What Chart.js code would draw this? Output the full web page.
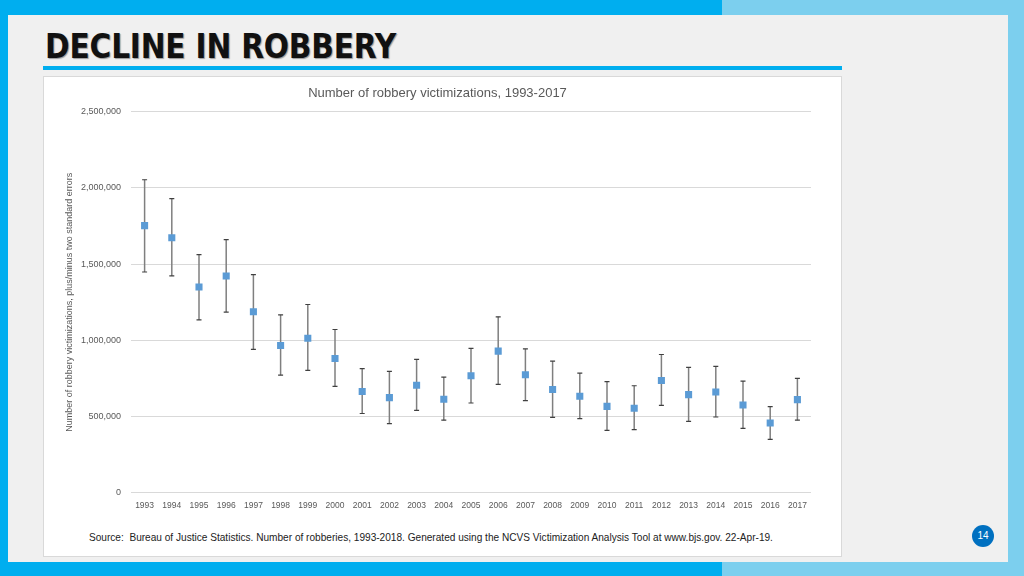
<!DOCTYPE html>
<html>
<head>
<meta charset="utf-8">
<script src="https://cdn.jsdelivr.net/npm/chart.js@4/dist/chart.umd.min.js"></script>
<style>
    html, body { margin: 0; padding: 0; }
    body { width: 1024px; height: 576px; position: relative; overflow: hidden; background: #7ccfee; font-family: "Liberation Sans", Arial, sans-serif; }
    #topbar { position: absolute; left: 0; top: 0; width: 722px; height: 15px; background: #00aeef; }
    #leftbar { position: absolute; left: 0; top: 0; width: 8px; height: 576px; background: #00aeef; }
    #bottombar { position: absolute; left: 0; top: 562px; width: 722px; height: 14px; background: #00aeef; }
    #panel { position: absolute; left: 8px; top: 15px; width: 1000px; height: 547px; background: #f0f0f0; }
    #heading { position: absolute; left: 45px; top: 27px; font-family: "Liberation Sans Narrow", "DejaVu Sans Condensed", "Liberation Sans", sans-serif; font-weight: bold; font-size: 33px; letter-spacing: -0.2px; color: #111; text-shadow: 1px 1px 1px #999; }
    #rule { position: absolute; left: 43px; top: 66px; width: 799px; height: 4px; background: #00aeef; }
    #box { position: absolute; left: 43px; top: 76px; width: 797px; height: 479px; background: #fff; border: 1px solid #d9d9d9; }
    #wrap { position: absolute; left: 0; top: 0; width: 797px; height: 434px; }
    #source { position: absolute; left: 45px; top: 455px; font-size: 10.1px; color: #222; white-space: nowrap; }
    #page { position: absolute; left: 972px; top: 525px; width: 22px; height: 22px; border-radius: 50%; background: #0070c0; color: #fff; font-size: 10px; line-height: 22px; text-align: center; }
</style>
</head>
<body>
<div id="topbar"></div>
<div id="leftbar"></div>
<div id="bottombar"></div>
<div id="panel"></div>
<div id="heading">DECLINE IN ROBBERY</div>
<div id="rule"></div>
<div id="box">
    <div id="wrap"><canvas id="robbery-js"></canvas></div>
    <div id="source">Source:&nbsp; Bureau of Justice Statistics. Number of robberies, 1993-2018. Generated using the NCVS Victimization Analysis Tool at www.bjs.gov. 22-Apr-19.</div>
</div>
<div id="page">14</div>

<script>
const YEARS = ['1993', '1994', '1995', '1996', '1997', '1998', '1999', '2000', '2001', '2002', '2003', '2004', '2005',
    '2006', '2007', '2008', '2009', '2010', '2011', '2012', '2013', '2014', '2015', '2016', '2017'];

const victimizations = [1752000, 1673000, 1350000, 1422000, 1187000, 966000, 1014000, 881000, 664000, 624000, 705000, 613000, 768000,
    929000, 774000, 678000, 633000, 567000, 554000, 737000, 644000, 661000, 576000, 458000, 611000];

// value plus two standard errors
const upperBound = [2053000, 1929000, 1562000, 1660000, 1431000, 1167000, 1235000, 1071000, 814000, 796000, 875000, 759000, 947000,
    1154000, 944000, 864000, 785000, 729000, 702000, 907000, 822000, 829000, 733000, 565000, 751000];

// value minus two standard errors
const lowerBound = [1448000, 1422000, 1134000, 1185000, 940000, 772000, 803000, 698000, 520000, 454000, 541000, 476000, 589000,
    711000, 604000, 495000, 486000, 410000, 414000, 574000, 469000, 497000, 423000, 351000, 476000];

const Y_TICKS = [0, 500000, 1000000, 1500000, 2000000, 2500000];

const errorBars = {
    id: 'errorBars',
    beforeDatasetsDraw(chart) {
        const ctx = chart.ctx;
        const x = chart.scales.x, y = chart.scales.y;
        ctx.save();
        upperBound.forEach((hi, i) => {
            const px = x.getPixelForValue(i);
            const top = y.getPixelForValue(hi);
            const bottom = y.getPixelForValue(lowerBound[i]);
            ctx.strokeStyle = '#7f7f7f';
            ctx.lineWidth = 1.5;
            ctx.beginPath();
            ctx.moveTo(px, top);
            ctx.lineTo(px, bottom);
            ctx.stroke();
            ctx.strokeStyle = '#404040';
            ctx.lineWidth = 1.2;
            ctx.beginPath();
            ctx.moveTo(px - 2.5, top);
            ctx.lineTo(px + 2.5, top);
            ctx.moveTo(px - 2.5, bottom);
            ctx.lineTo(px + 2.5, bottom);
            ctx.stroke();
        });
        ctx.restore();
    }
};

new Chart(document.getElementById('robbery-js').getContext('2d'), {
    type: 'line',
    data: {
        labels: YEARS,
        datasets: [{
            label: 'Robbery victimizations',
            data: victimizations,
            showLine: false,
            pointStyle: 'rect',
            pointRadius: 5,
            pointBorderWidth: 0,
            backgroundColor: '#5b9bd5',
            borderColor: '#5b9bd5'
        }]
    },
    options: {
        responsive: true,
        maintainAspectRatio: false,
        animation: false,
        layout: { padding: { left: 20, right: 30, top: 0, bottom: 0 } },
        plugins: {
            legend: { display: false },
            tooltip: { enabled: false },
            title: {
                display: true,
                text: 'Number of robbery victimizations, 1993-2017',
                color: '#595959',
                font: { family: 'Liberation Sans', size: 13, weight: 'normal' },
                padding: { top: 9, bottom: 10 }
            }
        },
        scales: {
            x: {
                offset: true,
                grid: { display: false },
                border: { display: false },
                ticks: { color: '#595959', font: { family: 'Liberation Sans', size: 8.5 }, padding: 0, maxRotation: 0, autoSkip: false }
            },
            y: {
                min: 0,
                max: 2500000,
                afterBuildTicks: (scale) => { scale.ticks = Y_TICKS.map(v => ({ value: v })); },
                afterFit: (scale) => { scale.width = 67; },
                grid: { color: '#d9d9d9', drawTicks: false },
                border: { display: false },
                ticks: {
                    color: '#595959',
                    font: { family: 'Liberation Sans', size: 9 },
                    padding: 10,
                    callback: (v) => v.toLocaleString('en-US')
                },
                title: {
                    display: true,
                    text: 'Number of robbery victimizations, plus/minus two standard errors',
                    color: '#595959',
                    font: { family: 'Liberation Sans', size: 9 },
                    padding: 0
                }
            }
        }
    },
    plugins: [errorBars]
});
</script>
</body>
</html>
